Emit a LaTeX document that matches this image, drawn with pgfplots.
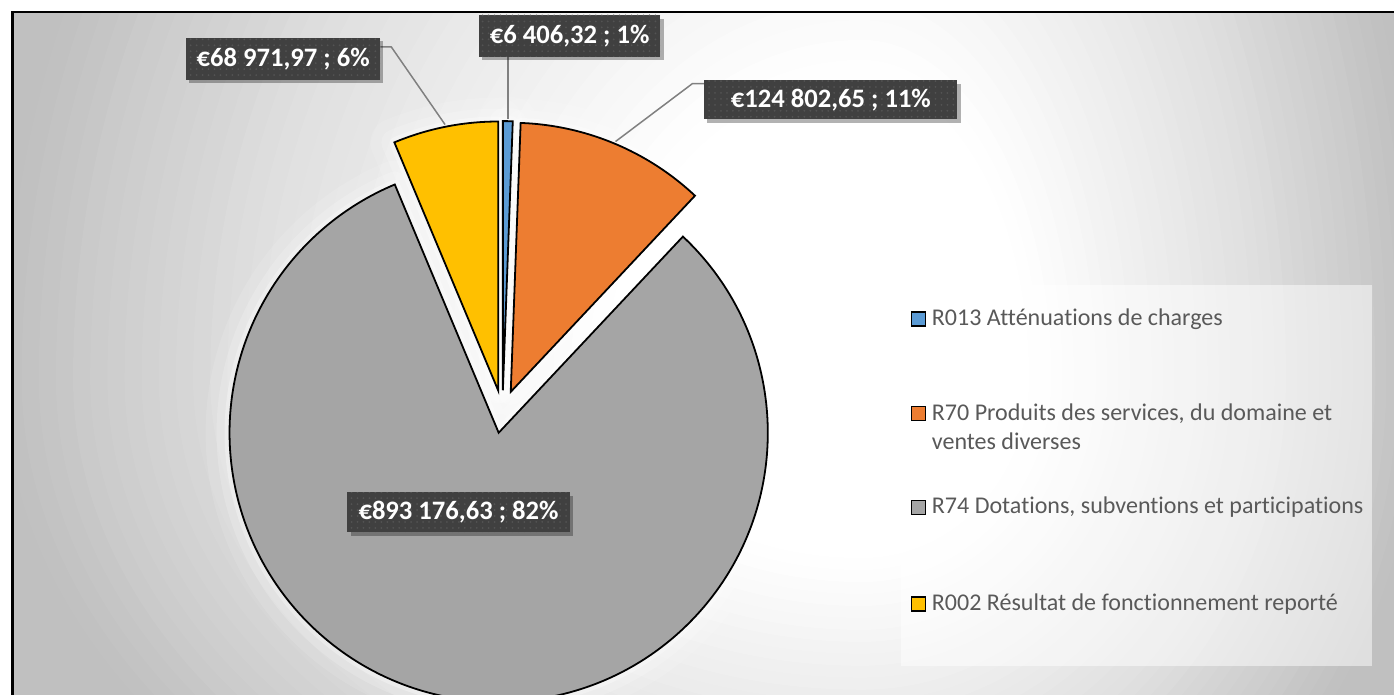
\documentclass[border=0pt]{standalone}
\usepackage{pgfplots}
\pgfplotsset{compat=1.18}
\usepackage{fontspec}
\setmainfont{Carlito}[Ligatures=NoCommon]
\usetikzlibrary{patterns,shadows}

\definecolor{sBlue}{HTML}{5B9BD5}
\definecolor{sOrange}{HTML}{ED7D31}
\definecolor{sGray}{HTML}{A5A5A5}
\definecolor{sYellow}{HTML}{FFC000}
\definecolor{lblfill}{HTML}{404040}
\definecolor{lbldot}{HTML}{535353}
\definecolor{legtext}{HTML}{595959}
\definecolor{leader}{HTML}{808080}
\definecolor{bgedge}{HTML}{C0C0C0}

% slice values (EUR), clockwise from 12 o'clock
\def\slices{6406.32/sBlue,124802.65/sOrange,893176.63/sGray,68971.97/sYellow}

% pie geometry in pixel units of the axis: centre, radius 270, explode 21.5
\newcommand\pieslices[1]{%
  \xdef\angA{90}%
  \foreach \v/\c in \slices {%
    \edef\angB{\fpeval{\angA-360*\v/\total}}%
    \edef\mid{\fpeval{(\angA+\angB)/2}}%
    \edef\ax{\fpeval{499.6+21.5*cosd(\mid)}}%
    \edef\ay{\fpeval{284+21.5*sind(\mid)}}%
    \path[#1] (axis cs:\ax,\ay) -- ++(\angA:135bp)
      arc[start angle=\angA,end angle=\angB,radius=135bp] -- cycle;%
    \xdef\angA{\angB}%
  }}

% stepped background gradient: nested ovals round (860,317)
% half-axes in bp: left 430, right 280, top 500, bottom 300
\newcommand\background{%
  \fill[bgedge] (axis cs:8,-20) rectangle (axis cs:1420,685);
  \foreach \k in {100,98,...,30} {%
    \edef\t{\fpeval{\k/100-0.01}}%
    \edef\g{\fpeval{(\t>0.7) ? (224-(\t-0.7)/0.3*32)/255 : (255-(max(\t,0.3)-0.3)/0.4*31)/255}}%
    \definecolor{bgtmp}{gray}{\g}%
    \edef\rl{\fpeval{430*\k/100}}\edef\rr{\fpeval{280*\k/100}}%
    \edef\rt{\fpeval{500*\k/100}}\edef\rb{\fpeval{300*\k/100}}%
    \fill[bgtmp] (axis cs:860,317) ++(\rr bp,0)
      arc[start angle=0,end angle=90,x radius=\rr bp,y radius=\rt bp]
      arc[start angle=90,end angle=180,x radius=\rl bp,y radius=\rt bp]
      arc[start angle=180,end angle=270,x radius=\rl bp,y radius=\rb bp]
      arc[start angle=270,end angle=360,x radius=\rr bp,y radius=\rb bp] -- cycle;
  }}

\tikzset{
  lbl/.style={fill=lblfill, text=white, inner sep=0pt,
    font=\fontsize{13.4}{15}\selectfont\bfseries,
    drop shadow={shadow xshift=1.6bp, shadow yshift=-1.8bp, opacity=0.3, fill=black},
    postaction={pattern=dots, pattern color=lbldot}},
  legtxt/.style={anchor=west, inner sep=0pt, text=legtext,
    font=\fontsize{12.1}{14}\selectfont},
  legkey/.style={line width=0.8bp, draw=black},
}

\begin{document}
\edef\total{\fpeval{6406.32+124802.65+893176.63+68971.97}}
\begin{tikzpicture}
\begin{axis}[
  x=0.5bp, y=0.5bp,
  xmin=0, xmax=1394, ymin=0, ymax=697,
  hide axis, clip=false,
]
\coordinate (ll) at (axis cs:0,0);
\coordinate (ur) at (axis cs:1394,697);
\pgfplotsextra{
  \begin{scope}
  \clip (axis cs:0,0) rectangle (axis cs:1394,697);
  \fill[white] (axis cs:0,0) rectangle (axis cs:1394,697);
  \begin{scope}
    \clip (axis cs:8,-20) rectangle (axis cs:1420,685);
    \background
  \end{scope}
  \draw[line width=1.1bp] (axis cs:8,-20) rectangle (axis cs:1420,685);
  % soft glow, then slices
  \pieslices{draw=white, line width=24bp, line join=round, opacity=0.12}
  \pieslices{draw=white, line width=13bp, line join=round, opacity=0.18}
  \pieslices{draw=white, line width=5bp, line join=round, opacity=0.3}
  \pieslices{fill=\c, draw=black, line width=0.9bp, line join=miter}
  % leader lines
  \draw[leader, line width=0.75bp] (axis cs:377,650) -- (axis cs:388,650) -- (axis cs:442,572);
  \draw[leader, line width=0.75bp] (axis cs:505,640) -- (axis cs:505,578);
  \draw[leader, line width=0.75bp] (axis cs:702,613) -- (axis cs:690,613) -- (axis cs:613,555);
  % legend
  \fill[white, opacity=0.5] (axis cs:899,29) rectangle (axis cs:1372,411);
  \end{scope}
}
% data labels
\node[lbl, minimum width=97.5bp, minimum height=21bp] at (axis cs:279.5,638) {€68 971,97 ; 6\%};
\node[lbl, minimum width=91bp, minimum height=21bp] at (axis cs:567,661) {€6 406,32 ; 1\%};
\node[lbl, minimum width=127bp, minimum height=19.5bp] at (axis cs:829,597) {€124 802,65 ; 11\%};
\node[lbl, minimum width=111.5bp, minimum height=20bp] at (axis cs:455.5,183) {€893 176,63 ; 82\%};
% legend entries
\draw[legkey, fill=sBlue] (axis cs:910,370) rectangle (axis cs:924,384);
\node[legtxt] at (axis cs:930,377) {R013 Atténuations de charges};
\draw[legkey, fill=sOrange] (axis cs:910,275) rectangle (axis cs:924,289);
\node[legtxt] at (axis cs:930,282) {R70 Produits des services, du domaine et};
\node[legtxt] at (axis cs:930,254) {ventes diverses};
\draw[legkey, fill=sGray] (axis cs:910,181) rectangle (axis cs:924,195);
\node[legtxt] at (axis cs:930,188) {R74 Dotations, subventions et participations};
\draw[legkey, fill=sYellow] (axis cs:910,84) rectangle (axis cs:924,98);
\node[legtxt] at (axis cs:930,91) {R002 Résultat de fonctionnement reporté};
\end{axis}
\pgfresetboundingbox
\path[use as bounding box] (ll) rectangle (ur);
\end{tikzpicture}
\end{document}
